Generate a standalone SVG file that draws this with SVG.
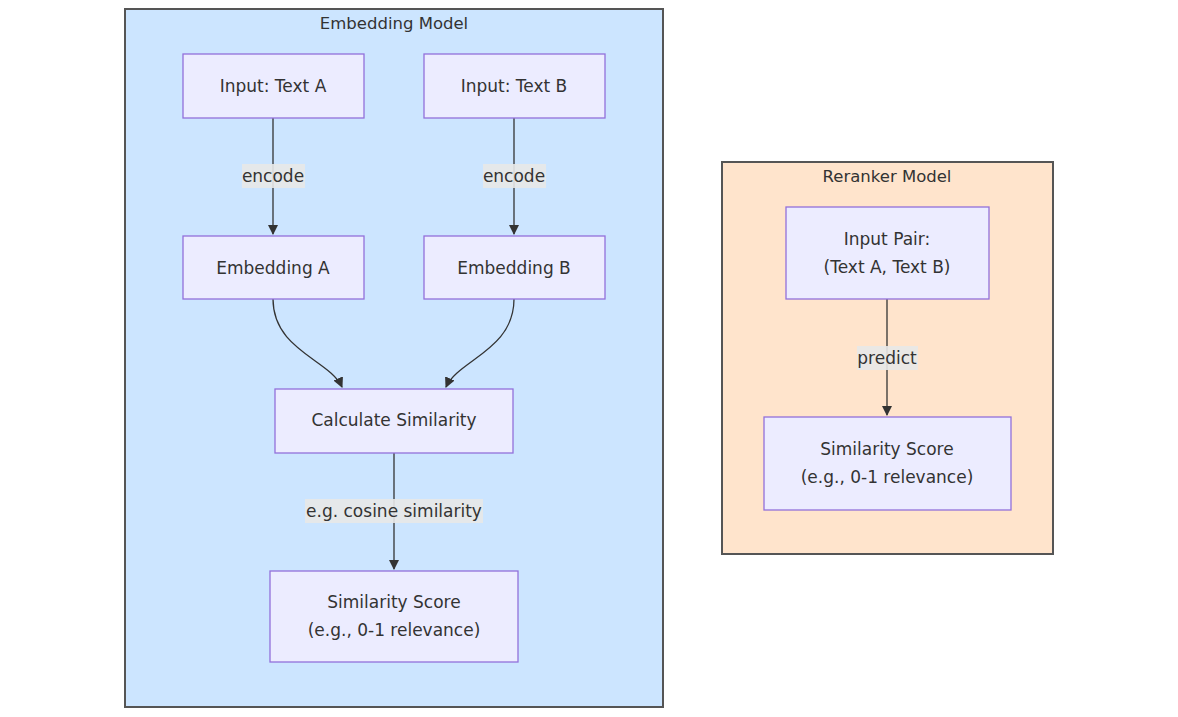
<svg xmlns="http://www.w3.org/2000/svg" width="1178" height="717" viewBox="0 0 1178 717">
<defs>
<marker id="arr" viewBox="0 0 10 10" refX="9" refY="5" markerWidth="8" markerHeight="8" orient="auto"><path d="M0,0L10,5L0,10z" fill="#333"/></marker>
<style>
.node rect{fill:#ECECFF;stroke:#9370DB;stroke-width:1.3}
text{font-family:"DejaVu Sans","Liberation Sans",sans-serif;font-size:17px;fill:#333;text-anchor:middle;dominant-baseline:central}
.c text{font-size:16.5px}
.e path{fill:none;stroke:#333;stroke-width:1.3;marker-end:url(#arr)}
.lb{fill:#e8e8e8;opacity:0.9}
</style>
</defs>
<rect width="1178" height="717" fill="#fff"/>
<g id="embedding-model" class="c"><rect x="125" y="9" width="538" height="698" fill="#cce5ff" stroke="#555" stroke-width="2"/><text x="394" y="23">Embedding Model</text></g>
<g id="reranker-model" class="c"><rect x="722" y="162" width="331" height="392" fill="#ffe4cc" stroke="#555" stroke-width="2"/><text x="887" y="176">Reranker Model</text></g>
<g id="edges" class="e">
<path d="M273,118V234"/>
<path d="M514,118V234"/>
<path d="M273,299C273,350 330,360 342,387"/>
<path d="M514,299C514,350 458,360 446,387"/>
<path d="M394,453V569"/>
<path d="M887,299V415"/>
<rect class="lb" x="242" y="164" width="63" height="24"/><text x="273" y="176">encode</text>
<rect class="lb" x="483" y="164" width="63" height="24"/><text x="514" y="176">encode</text>
<rect class="lb" x="305" y="499" width="178" height="24"/><text x="394" y="511">e.g. cosine similarity</text>
<rect class="lb" x="857" y="346" width="61" height="24"/><text x="887" y="358">predict</text>
</g>
<g id="inA" class="node"><rect x="183" y="54" width="181" height="64"/><text x="273" y="86">Input: Text A</text></g>
<g id="inB" class="node"><rect x="424" y="54" width="181" height="64"/><text x="514" y="86">Input: Text B</text></g>
<g id="embA" class="node"><rect x="183" y="236" width="181" height="63"/><text x="273" y="268">Embedding A</text></g>
<g id="embB" class="node"><rect x="424" y="236" width="181" height="63"/><text x="514" y="268">Embedding B</text></g>
<g id="calc" class="node"><rect x="275" y="389" width="238" height="64"/><text x="394" y="420">Calculate Similarity</text></g>
<g id="score1" class="node"><rect x="270" y="571" width="248" height="91"/><text x="394" y="602">Similarity Score</text><text x="394" y="630">(e.g., 0-1 relevance)</text></g>
<g id="pair" class="node"><rect x="786" y="207" width="203" height="92"/><text x="887" y="239">Input Pair:</text><text x="887" y="267">(Text A, Text B)</text></g>
<g id="score2" class="node"><rect x="764" y="417" width="247" height="93"/><text x="887" y="449">Similarity Score</text><text x="887" y="477">(e.g., 0-1 relevance)</text></g>
</svg>
